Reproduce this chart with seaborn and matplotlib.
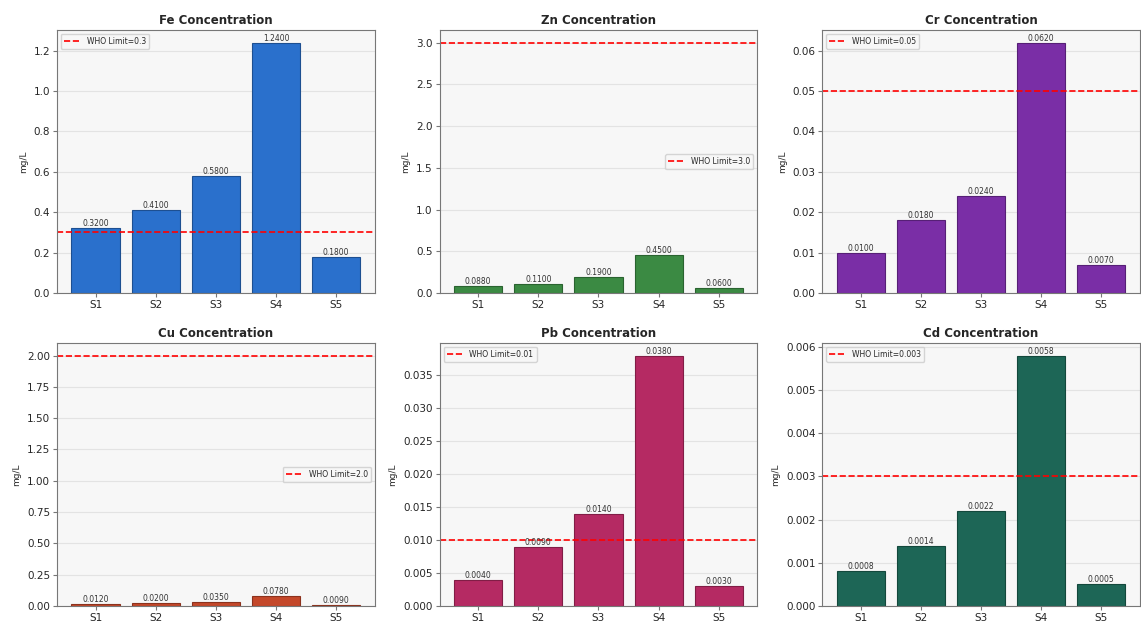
import matplotlib
matplotlib.use("Agg")
import matplotlib.pyplot as plt
import seaborn as sns
import pandas as pd

sites = ["S1", "S2", "S3", "S4", "S5"]

fe = [0.32, 0.41, 0.58, 1.24, 0.18]
zn = [0.088, 0.11, 0.19, 0.45, 0.06]
cr = [0.010, 0.018, 0.024, 0.062, 0.007]
cu = [0.012, 0.020, 0.035, 0.078, 0.009]
pb = [0.004, 0.009, 0.014, 0.038, 0.003]
cd = [0.0008, 0.0014, 0.0022, 0.0058, 0.0005]

metals = ["Fe", "Zn", "Cr", "Cu", "Pb", "Cd"]
who_limits = [0.3, 3.0, 0.05, 2.0, 0.01, 0.003]
limit_labels = ["0.3", "3.0", "0.05", "2.0", "0.01", "0.003"]
values = [fe, zn, cr, cu, pb, cd]
colors = ["#2a70cc", "#3b8a43", "#7a2ea6", "#c4482a", "#b52a63", "#1d6656"]
edge_colors = ["#1d4f91", "#2a6330", "#561f76", "#8c321d", "#811d46", "#13483c"]

sns.set_style("whitegrid", {"axes.facecolor": "#f7f7f7",
                            "axes.edgecolor": "#777777",
                            "grid.color": "#e3e3e3"})
plt.rcParams["font.family"] = ["DejaVu Sans"]

fig, axes = plt.subplots(2, 3, figsize=(11.41, 6.26), dpi=100)
fig.subplots_adjust(left=0.05, right=0.999, top=0.952, bottom=0.032,
                    wspace=0.205, hspace=0.19)

for ax, metal, vals, lim, lim_lbl, col, ecol in zip(
        axes.flat, metals, values, who_limits, limit_labels, colors, edge_colors):
    df = pd.DataFrame({"Site": sites, "Value": vals})
    sns.barplot(data=df, x="Site", y="Value", color=col, edgecolor=ecol,
                linewidth=0.8, saturation=1, width=0.8, ax=ax)
    ax.axhline(lim, color="red", linestyle="--", linewidth=1.2,
               label=f"WHO Limit={lim_lbl}")
    for patch, v in zip(ax.patches, vals):
        ax.text(patch.get_x() + patch.get_width() / 2, v, f"{v:.4f}",
                ha="center", va="bottom", fontsize=5.5, color="#333333")
    # keep a small margin around the outer bars
    ax.set_xlim(-0.64, len(sites) - 1 + 0.64)
    ax.set_title(f"{metal} Concentration", fontsize=8.5, fontweight="bold", pad=4)
    ax.set_xlabel("")
    ax.set_ylabel("mg/L", fontsize=6.5)
    ax.tick_params(axis="both", labelsize=7.5, length=3, color="#777777",
                   pad=2, left=True, bottom=True)
    ax.grid(axis="x", visible=False)
    ax.legend(loc="best", fontsize=5.5, frameon=True, framealpha=0.8,
              handlelength=2.2)
    for s in ax.spines.values():
        s.set_linewidth(0.8)

fig.savefig("out.png", dpi=100)
